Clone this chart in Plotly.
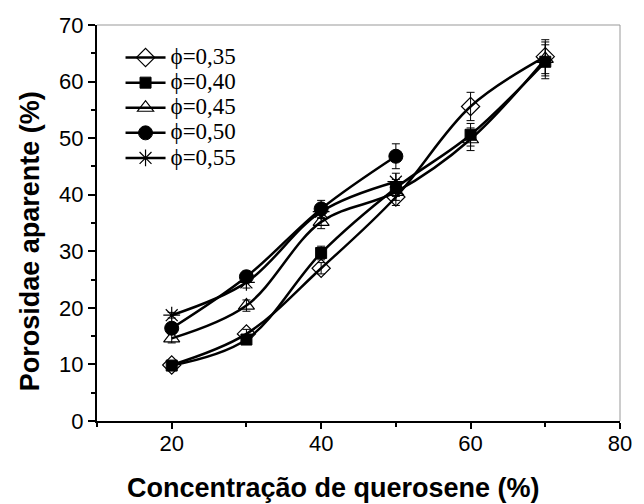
import plotly.graph_objects as go

x_conc = [20, 30, 40, 50, 60, 70]
x_short = [20, 30, 40, 50]

phi_035 = [9.9, 15.4, 27.0, 39.6, 55.6, 64.4]
phi_040 = [9.8, 14.4, 29.7, 41.2, 50.6, 63.5]
phi_045 = [14.6, 20.4, 35.2, 40.5, 49.8, 64.0]
phi_050 = [16.4, 25.5, 37.5, 46.8]
phi_055 = [18.7, 24.5, 37.0, 42.3]

err_035 = [0.5, 0.8, 1.0, 1.5, 2.5, 3.0]
err_040 = [0.5, 0.8, 1.2, 1.5, 2.0, 3.0]
err_045 = [0.8, 1.0, 1.2, 1.5, 2.0, 3.0]
err_050 = [0.8, 1.0, 1.5, 2.2]
err_055 = [0.5, 1.0, 1.2, 1.5]

labels = ["\u03d5=0,35", "\u03d5=0,40", "\u03d5=0,45", "\u03d5=0,50", "\u03d5=0,55"]
x_title = "Concentração de querosene (%)"
y_title = "Porosidae aparente (%)"

series = [
    (x_conc, phi_035, err_035, labels[0], dict(symbol="diamond-open", size=14, color="black", line=dict(width=1.2, color="black"))),
    (x_conc, phi_040, err_040, labels[1], dict(symbol="square", size=11, color="black", line=dict(width=1, color="black"))),
    (x_conc, phi_045, err_045, labels[2], dict(symbol="triangle-up-open", size=14, color="black", line=dict(width=1.2, color="black"))),
    (x_short, phi_050, err_050, labels[3], dict(symbol="circle", size=14, color="black", line=dict(width=1, color="black"))),
    (x_short, phi_055, err_055, labels[4], dict(symbol="asterisk-open", size=14, color="black", line=dict(width=1.2, color="black"))),
]

fig = go.Figure()
for xs, ys, es, name, mk in series:
    fig.add_trace(go.Scatter(
        x=xs, y=ys, name='<span style="font-size:23px">' + name + "</span>", mode="lines+markers",
        line=dict(color="black", width=2.5, shape="spline", smoothing=1.0),
        marker=mk,
        error_y=dict(type="data", array=es, visible=True, color="black", thickness=1, width=4),
    ))

fig.update_layout(
    width=644, height=504,
    margin=dict(l=97, r=14, t=25, b=83),
    paper_bgcolor="white", plot_bgcolor="white",
    showlegend=True,
    legend=dict(
        x=0.045, y=(421 - 40) / 396, xanchor="left", yanchor="top",
        bgcolor="rgba(0,0,0,0)",
        font=dict(family="Liberation Serif", size=17, color="black"),
        tracegroupgap=0, itemwidth=40,
    ),
    font=dict(family="Liberation Sans", color="black"),
)

fig.update_xaxes(
    range=[10, 80], tickvals=[20, 40, 60, 80],
    ticks="outside", ticklen=6, tickwidth=1.5, tickcolor="black",
    minor=dict(tickvals=[10, 30, 50, 70], ticks="outside", ticklen=4, tickwidth=1.5, tickcolor="black"),
    showline=True, linecolor="black", linewidth=2, showgrid=False, zeroline=False,
    tickfont=dict(family="Liberation Sans", size=22, color="black"),
    ticklabelstandoff=-4,
)
fig.update_yaxes(
    range=[0, 70], dtick=10, tick0=0,
    ticks="outside", ticklen=7, tickwidth=1.5, tickcolor="black",
    minor=dict(dtick=5, ticks="outside", ticklen=4, tickwidth=1.5, tickcolor="black"),
    showline=True, linecolor="black", linewidth=2, showgrid=False, zeroline=False,
    tickfont=dict(family="Liberation Sans", size=22, color="black"),
)

fig.add_annotation(text="<b>" + x_title + "</b>", xref="paper", yref="paper",
                   x=(338 - 97) / 533, y=-(488 - 421) / 396, xanchor="center", yanchor="middle",
                   showarrow=False, font=dict(family="Liberation Sans", size=27, color="black"))
fig.add_annotation(text="<b>" + y_title + "</b>", xref="paper", yref="paper",
                   x=-(97 - 29) / 533, y=(421 - 241) / 396, xanchor="center", yanchor="middle",
                   textangle=-90, showarrow=False, font=dict(family="Liberation Sans", size=27, color="black"))

fig.add_shape(type="line", xref="paper", yref="paper", x0=0, x1=1, y0=1, y1=1, line=dict(color="#999999", width=1))
fig.add_shape(type="line", xref="paper", yref="paper", x0=1, x1=1, y0=0, y1=1, line=dict(color="#999999", width=1))

fig.write_html("out.html")
